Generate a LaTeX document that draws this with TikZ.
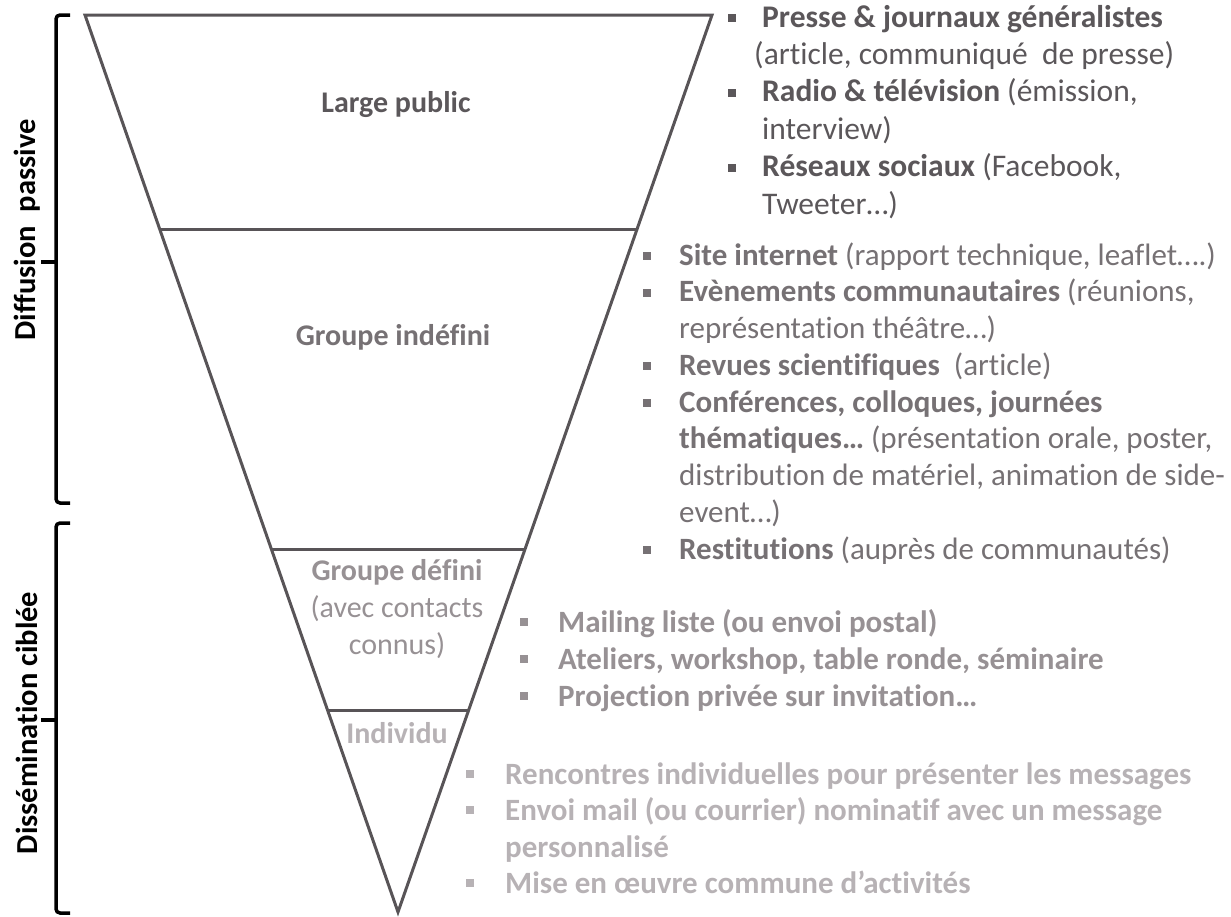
\documentclass[tikz,border=0pt]{standalone}
\usepackage{fontspec}
\setmainfont{Carlito}[Ligatures={NoCommon}]
\usetikzlibrary{calc}
\definecolor{cA}{HTML}{5B575A}
\definecolor{cB}{HTML}{767174}
\definecolor{cC}{HTML}{979194}
\definecolor{cD}{HTML}{B7B2B5}
\definecolor{lineC}{HTML}{585457}
\tikzset{
  funnel/.style={draw=lineC, line width=3pt, line join=miter},
  brk/.style={draw=black, line width=3.5pt, rounded corners=4pt},
  txt/.style={inner sep=0pt, anchor=base west, font=\fontsize{31}{37}\selectfont},
  txtA/.style={inner sep=0pt, anchor=base west, font=\fontsize{31.5}{37}\selectfont},
  ctxt/.style={inner sep=0pt, anchor=base, font=\fontsize{30}{37}\selectfont},
  side/.style={inner sep=0pt, rotate=90, font=\fontsize{30.5}{37}\selectfont\bfseries},
  bul/.style={inner sep=0pt, minimum size=8pt, fill=#1, draw=none}
}
\begin{document}
\begin{tikzpicture}[x=1pt,y=-1pt]
\useasboundingbox (0,0) rectangle (1231,916);
% funnel
\coordinate (TL) at (85,15);
\coordinate (TR) at (712,15);
\coordinate (B) at (398,912);
\draw[funnel] (TL) -- (TR) -- (B) -- cycle;
\coordinate (l1) at ($(TL)!0.2386!(B)$);
\coordinate (r1) at ($(TR)!0.2386!(B)$);
\coordinate (l2) at ($(TL)!0.5964!(B)$);
\coordinate (r2) at ($(TR)!0.5964!(B)$);
\coordinate (l3) at ($(TL)!0.7748!(B)$);
\coordinate (r3) at ($(TR)!0.7748!(B)$);
\draw[funnel] (l1) -- (r1);
\draw[funnel] (l2) -- (r2);
\draw[funnel] (l3) -- (r3);
% funnel labels
\node[ctxt, text=cA] (lp) at (396,112) {\textbf{Large public}};
\node[ctxt, text=cB] (gi) at (393,345) {\textbf{Groupe indéfini}};
\node[ctxt, text=cC] (gd1) at (397,580) {\textbf{Groupe défini}};
\node[ctxt, text=cC] (gd2) at (397,617) {(avec contacts};
\node[ctxt, text=cC] (gd3) at (397,654) {connus)};
\node[ctxt, text=cD] (ind) at (397,743) {\textbf{Individu}};
% brackets
\coordinate (b1t) at (70,15);
\coordinate (b1b) at (70,503);
\draw[brk] (b1t) -- (56,15) -- (56,503) -- (b1b);
\coordinate (b1m) at (41,262);
\draw[brk] (b1m) -- (56,262);
\coordinate (b2t) at (70,523);
\coordinate (b2b) at (70,913);
\draw[brk] (b2t) -- (56,523) -- (56,913) -- (b2b);
\coordinate (b2m) at (41,720);
\draw[brk] (b2m) -- (56,720);
\node[side] (dp) at (27,230) {Diffusion~~passive};
\node[side] (dc) at (27,723) {Dissémination ciblée};
% list A
\node[bul=cA] (ba1) at (732,18) {};
\node[bul=cA] (ba2) at (732,93) {};
\node[bul=cA] (ba3) at (732,168) {};
\node[txtA, text=cA] (a1) at (762,27) {\textbf{Presse \& journaux généralistes}};
\node[txtA, text=cA] (a2) at (754,64.4) {(article, communiqué~~de presse)};
\node[txtA, text=cA] (a3) at (762,101.8) {\textbf{Radio \& télévision} (émission,};
\node[txtA, text=cA] (a4) at (762,139.2) {interview)};
\node[txtA, text=cA] (a5) at (762,176.6) {\textbf{Réseaux sociaux} (Facebook,};
\node[txtA, text=cA] (a6) at (762,214) {Tweeter…)};
% list B
\node[bul=cB] (bb1) at (647,256) {};
\node[bul=cB] (bb2) at (647,293) {};
\node[bul=cB] (bb3) at (647,366) {};
\node[bul=cB] (bb4) at (647,403) {};
\node[bul=cB] (bb5) at (647,550) {};
\node[txt, text=cB] (m1) at (679,265) {\textbf{Site internet} (rapport technique, leaflet….)};
\node[txt, text=cB] (m2) at (679,301.75) {\textbf{Evènements communautaires} (réunions,};
\node[txt, text=cB] (m3) at (679,338.5) {représentation théâtre…)};
\node[txt, text=cB] (m4) at (679,375.25) {\textbf{Revues scientifiques}~~(article)};
\node[txt, text=cB] (m5) at (679,412) {\textbf{Conférences, colloques, journées}};
\node[txt, text=cB] (m6) at (679,448.75) {\textbf{thématiques…} (présentation orale, poster,};
\node[txt, text=cB] (m7) at (679,485.5) {distribution de matériel, animation de side-};
\node[txt, text=cB] (m8) at (679,522.25) {event…)};
\node[txt, text=cB] (m9) at (679,559) {\textbf{Restitutions} (auprès de communautés)};
% list C
\node[bul=cC] (bc1) at (524,622) {};
\node[bul=cC] (bc2) at (524,659) {};
\node[bul=cC] (bc3) at (524,696) {};
\node[txt, text=cC] (c1) at (558,632) {\textbf{Mailing liste (ou envoi postal)}};
\node[txt, text=cC] (c2) at (558,669) {\textbf{Ateliers, workshop, table ronde, séminaire}};
\node[txt, text=cC] (c3) at (558,706) {\textbf{Projection privée sur invitation…}};
% list D
\node[bul=cD] (bd1) at (470,774) {};
\node[bul=cD] (bd2) at (470,810) {};
\node[bul=cD] (bd3) at (470,883) {};
\node[txt, text=cD] (d1) at (505,784) {\textbf{Rencontres individuelles pour présenter les messages}};
\node[txt, text=cD] (d2) at (505,820) {\textbf{Envoi mail (ou courrier) nominatif avec un message}};
\node[txt, text=cD] (d3) at (505,857) {\textbf{personnalisé}};
\node[txt, text=cD] (d4) at (505,893) {\textbf{Mise en œuvre commune d’activités}};
\end{tikzpicture}
\end{document}
